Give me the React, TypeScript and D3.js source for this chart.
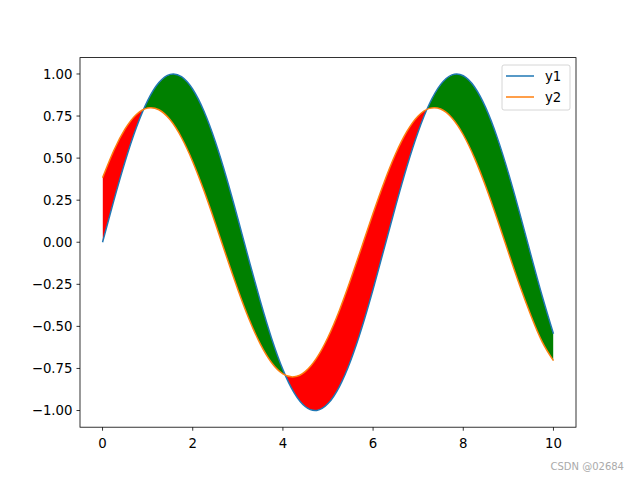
import React from "react";
import * as d3 from "d3";

const xs = [0, 0.25, 0.5, 0.75, 1, 1.25, 1.5, 1.75, 2, 2.25, 2.5, 2.75, 3, 3.25, 3.5, 3.75, 4, 4.25, 4.5, 4.75, 5, 5.25, 5.5, 5.75, 6, 6.25, 6.5, 6.75, 7, 7.25, 7.5, 7.75, 8, 8.25, 8.5, 8.75, 9, 9.25, 9.5, 9.75, 10];
const y1 = [0, 0.2474, 0.4794, 0.6816, 0.8415, 0.949, 0.9975, 0.984, 0.9093, 0.7781, 0.5985, 0.3817, 0.1411, -0.1082, -0.3508, -0.5716, -0.7568, -0.895, -0.9775, -0.9993, -0.9589, -0.8589, -0.7055, -0.5086, -0.2794, -0.0332, 0.2151, 0.45, 0.657, 0.8231, 0.938, 0.9946, 0.9894, 0.9228, 0.7985, 0.6247, 0.4121, 0.1743, -0.0752, -0.3195, -0.544];
const y2 = [0.3835, 0.5453, 0.6732, 0.7592, 0.798, 0.7872, 0.7274, 0.6225, 0.4788, 0.3054, 0.1129, -0.0866, -0.2806, -0.4573, -0.6054, -0.716, -0.782, -0.7995, -0.7671, -0.6871, -0.5644, -0.4069, -0.2235, -0.0266, 0.1721, 0.36, 0.5256, 0.6585, 0.7504, 0.7957, 0.7915, 0.7382, 0.6388, 0.4998, 0.3297, 0.1394, -0.0602, -0.2556, -0.4352, -0.5918, -0.7038];
const xTicks = [0, 2, 4, 6, 8, 10];
const yTicks = [-1, -0.75, -0.5, -0.25, 0, 0.25, 0.5, 0.75, 1];
const seriesNames = ["y1", "y2"];

export default function App() {
  const W = 640, H = 480;
  const L = 80, R = 576, T = 57.6, B = 427.2;
  const x = d3.scaleLinear().domain([-0.5, 10.5]).range([L, R]);
  const y = d3.scaleLinear().domain([-1.0991, 1.0973]).range([B, T]);
  const idx = xs.map((_, i) => i);
  const curve = d3.curveNatural;
  const band = d3.area<number>().x(i => x(xs[i])).y0(i => y(y2[i])).y1(i => y(y1[i])).curve(curve)(idx) || "";
  const belowY1 = d3.area<number>().x(i => x(xs[i])).y0(() => B + 50).y1(i => y(y1[i])).curve(curve)(idx) || "";
  const aboveY1 = d3.area<number>().x(i => x(xs[i])).y0(() => T - 50).y1(i => y(y1[i])).curve(curve)(idx) || "";
  const line1 = d3.line<number>().x(i => x(xs[i])).y(i => y(y1[i])).curve(curve)(idx) || "";
  const line2 = d3.line<number>().x(i => x(xs[i])).y(i => y(y2[i])).curve(curve)(idx) || "";
  const font = "DejaVu Sans, sans-serif";
  const fs = 13.3;
  const colors = ["#1f77b4", "#ff7f0e"];
  return (
    <svg width={W} height={H} style={{ display: "block", position: "absolute", left: 0, top: 0 }}>
      <rect width={W} height={H} fill="white" />
      <defs>
        <clipPath id="cg"><path d={belowY1} /></clipPath>
        <clipPath id="cr"><path d={aboveY1} /></clipPath>
      </defs>
      <path d={band} fill="green" clipPath="url(#cg)" />
      <path d={band} fill="red" clipPath="url(#cr)" />
      <path d={line1} fill="none" stroke={colors[0]} strokeWidth={1.5} />
      <path d={line2} fill="none" stroke={colors[1]} strokeWidth={1.5} />
      <rect x={L} y={T} width={R - L} height={B - T} fill="none" stroke="black" strokeWidth={0.8} />
      {xTicks.map(t => (
        <g key={"x" + t}>
          <line x1={x(t)} x2={x(t)} y1={B} y2={B + 3.5} stroke="black" strokeWidth={0.8} />
          <text x={x(t)} y={B + 20.5} textAnchor="middle" fontFamily={font} fontSize={fs}>{t}</text>
        </g>
      ))}
      {yTicks.map(t => (
        <g key={"y" + t}>
          <line x1={L - 3.5} x2={L} y1={y(t)} y2={y(t)} stroke="black" strokeWidth={0.8} />
          <text x={L - 7.5} y={y(t)} dy="0.36em" textAnchor="end" fontFamily={font} fontSize={fs}>{t < 0 ? "\u2212" + Math.abs(t).toFixed(2) : t.toFixed(2)}</text>
        </g>
      ))}
      <rect x={502} y={65} width={68} height={45} rx={2} fill="white" fillOpacity={0.8} stroke="#cccccc" strokeWidth={0.8} />
      {seriesNames.map((n, i) => (
        <g key={n}>
          <line x1={506} x2={534} y1={76 + i * 21} y2={76 + i * 21} stroke={colors[i]} strokeWidth={1.5} />
          <text x={545} y={76 + i * 21} dy="0.36em" fontFamily={font} fontSize={fs}>{n}</text>
        </g>
      ))}
      <text x={624} y={470} textAnchor="end" fontFamily={font} fontSize={10} fill="#aaaaaa">CSDN @02684</text>
    </svg>
  );
}
